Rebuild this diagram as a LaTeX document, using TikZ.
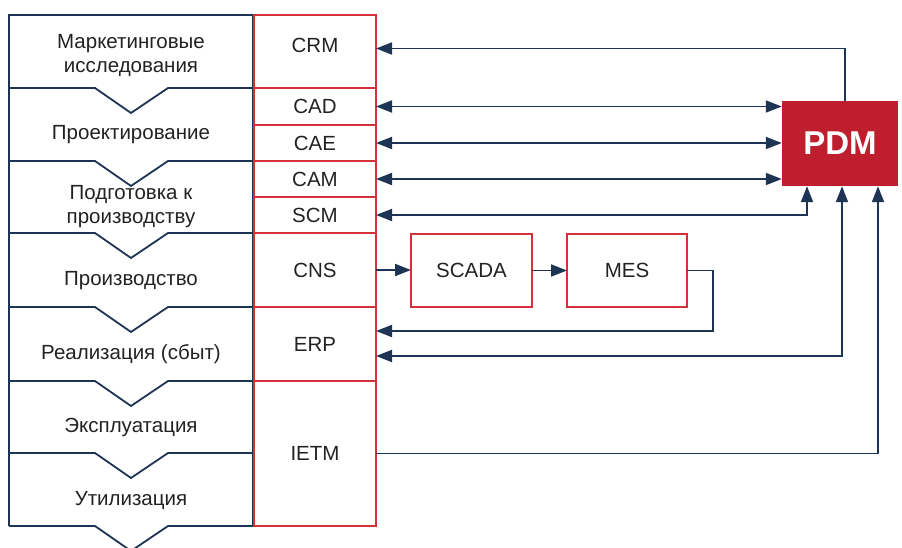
\documentclass[tikz,border=0pt]{standalone}
\usepackage{fontspec}
\setmainfont{Liberation Sans}
\usetikzlibrary{arrows.meta,positioning}
\definecolor{navy}{RGB}{30,52,84}
\definecolor{sysred}{RGB}{214,48,58}
\definecolor{pdmred}{RGB}{190,30,45}
\definecolor{txt}{RGB}{34,34,34}

\begin{document}
\begin{tikzpicture}[x=1pt,y=-1pt]
\tikzstyle{stage}=[font=\fontsize{20.5}{24}\selectfont,align=center,text=txt]
\tikzstyle{sys}=[draw=sysred,line width=1.8pt,minimum width=122,inner sep=0,outer sep=0,font=\fontsize{20.5}{24}\selectfont,text=txt]
\tikzstyle{link}=[draw=navy,line width=1.8pt,>={Triangle[length=16pt,width=12pt]}]
\useasboundingbox (0,0) rectangle (902,548);
% life cycle stages
\draw [navy,line width=1.8pt] (9,526) -- (9,15) -- (253,15) -- (253,526);
\foreach \y in {88,161,233,307,381,453,526}
  \draw [navy,line width=1.8pt] (9,\y) -- (95,\y) -- (131,\y+25) -- (168,\y) -- (253,\y);
\node [stage] (s1) at (131,55) {Маркетинговые\\исследования};
\node [stage] (s2) at (131,135) {Проектирование};
\node [stage] (s3) at (131,207) {Подготовка к\\производству};
\node [stage] (s4) at (131,281) {Производство};
\node [stage] (s5) at (131,354) {Реализация (сбыт)};
\node [stage] (s6) at (131,427) {Эксплуатация};
\node [stage] (s7) at (131,500) {Утилизация};
% systems
\node [sys,minimum height=73,text depth=12pt] (crm) at (315,51.5) {CRM};
\node [sys,minimum height=37,below=0pt of crm] (cad) {CAD};
\node [sys,minimum height=36,below=0pt of cad] (cae) {CAE};
\node [sys,minimum height=36,below=0pt of cae] (cam) {CAM};
\node [sys,minimum height=36,below=0pt of cam] (scm) {SCM};
\node [sys,minimum height=74,below=0pt of scm] (cns) {CNS};
\node [sys,minimum height=74,below=0pt of cns] (erp) {ERP};
\node [sys,minimum height=145,below=0pt of erp] (ietm) {IETM};
\node [sys,minimum width=121,minimum height=73] (scada) at (471.5,270.5) {SCADA};
\node [sys,minimum width=120,minimum height=73,right=35pt of scada] (mes) {MES};
\node [fill=pdmred,minimum width=116,minimum height=85,text=white,
  font=\fontsize{33}{38}\selectfont\bfseries] (pdm) at (840,143.5) {PDM};
% links
\draw [link,->] ([xshift=5pt]pdm.north) |- ([yshift=3pt]crm.east);
\draw [link,<->] (cad.east) -- (cad.east -| pdm.west);
\draw [link,<->] (cae.east) -- (cae.east -| pdm.west);
\draw [link,<->] (cam.east) -- (cam.east -| pdm.west);
\draw [link,<->] (scm.east) -| ([xshift=-33pt]pdm.south);
\draw [link,->] (cns.east) -- (cns.east -| scada.west);
\draw [link,->] (scada) -- (mes);
\draw [link,->] (mes.east) -- ++(26,0) |- ([yshift=13pt]erp.east);
\draw [link,<->] ([yshift=-12pt]erp.east) -| ([xshift=2pt]pdm.south);
\draw [link,->] (ietm.east) -| ([xshift=38pt]pdm.south);
\end{tikzpicture}
\end{document}
